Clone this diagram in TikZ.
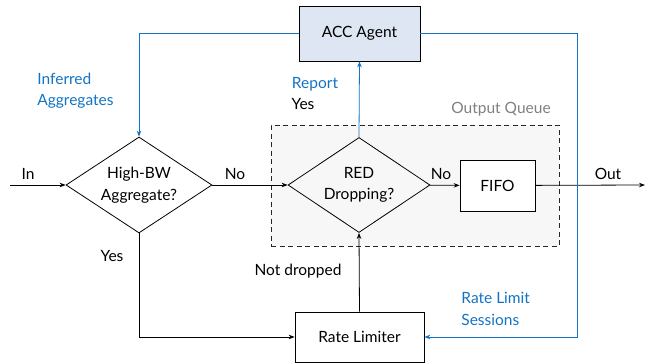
\documentclass[tikz,border=0pt]{standalone}
\usepackage{fontspec}
\setmainfont{Lato}
\usepackage{tikz}
\usetikzlibrary{arrows.meta,shapes.geometric}

\definecolor{accblue}{RGB}{20,115,195}
\definecolor{accfill}{RGB}{222,230,243}
\tikzset{
  arrowed/.style={-{Stealth[length=6pt,width=4.5pt]}},
  box/.style={shape=rectangle,draw=black,inner sep=0pt},
  decide/.style={shape=diamond,draw=black,align=center,inner sep=0pt,
    minimum width=146pt,minimum height=96pt,aspect=1.52},
  feedback/.style={arrowed,draw=accblue},
  flow/.style={arrowed,draw=black},
  lbl/.style={inner sep=0pt,align=left},
  bluelbl/.style={lbl,text=accblue},
}

\begin{document}
\begin{tikzpicture}[x=1pt,y=-1pt,font=\fontsize{15.5}{21.5}\selectfont,line width=0.8pt]
    \useasboundingbox (0,0) rectangle (649,364);
    \node[shape=rectangle,draw=black!85,dash pattern=on 5pt off 3.5pt,fill=black!3,minimum width=288pt,minimum height=121pt] (queue) at (415,185.5) {};
    \node[lbl,text=black!50,anchor=south east] (qname) at (551,117) {Output Queue};

    \node[decide] (hbw) at (139,185) {High-BW\\Aggregate?};
    \node[decide,minimum width=142pt,minimum height=95pt] (red) at (359,185) {RED\\Dropping?};
    \node[box,fill=white,minimum width=75pt,minimum height=51pt] (fifo) at (497.5,185.5) {FIFO};
    \node[box,fill=accfill,minimum width=121pt,minimum height=55pt] (acc) at (359.5,33.5) {ACC Agent};
    \node[box,minimum width=129pt,minimum height=50pt] (rl) at (359.5,337) {Rate Limiter};

    \coordinate (in) at (10,185);
    \coordinate (out) at (645,185);
    \coordinate (turn) at (577,33.5);

    \draw [flow] (in) -- (hbw);
    \draw [flow] (hbw) -- (red);
    \draw [flow] (red) -- (fifo);
    \draw [flow] (fifo) -- (out);
    \draw [flow] (hbw.south) |- (rl.west);
    \draw [flow] (rl.north) -- (red.south);
    \draw [feedback] (red.north) -- (acc.south);
    \draw [feedback] (acc.west) -| (hbw.north);
    \draw [feedback] (acc.east) -- (turn) |- (rl.east);

    \node[lbl] (inlbl) at (28,174) {In};
    \node[lbl] (no1) at (235,174) {No};
    \node[lbl] (no2) at (441,174) {No};
    \node[lbl] (outlbl) at (608,174) {Out};
    \node[bluelbl] (report) at (315,84) {Report};
    \node[lbl] (yes1) at (303,104) {Yes};
    \node[lbl] (yes2) at (112,256) {Yes};
    \node[lbl] (notdrop) at (298,271) {Not dropped};
    \node[bluelbl,anchor=west] (sessions) at (461,309) {Rate Limit\\Sessions};
    \node[bluelbl,anchor=west] (inferred) at (37,90.5) {Inferred\\Aggregates};
\end{tikzpicture}
\end{document}
